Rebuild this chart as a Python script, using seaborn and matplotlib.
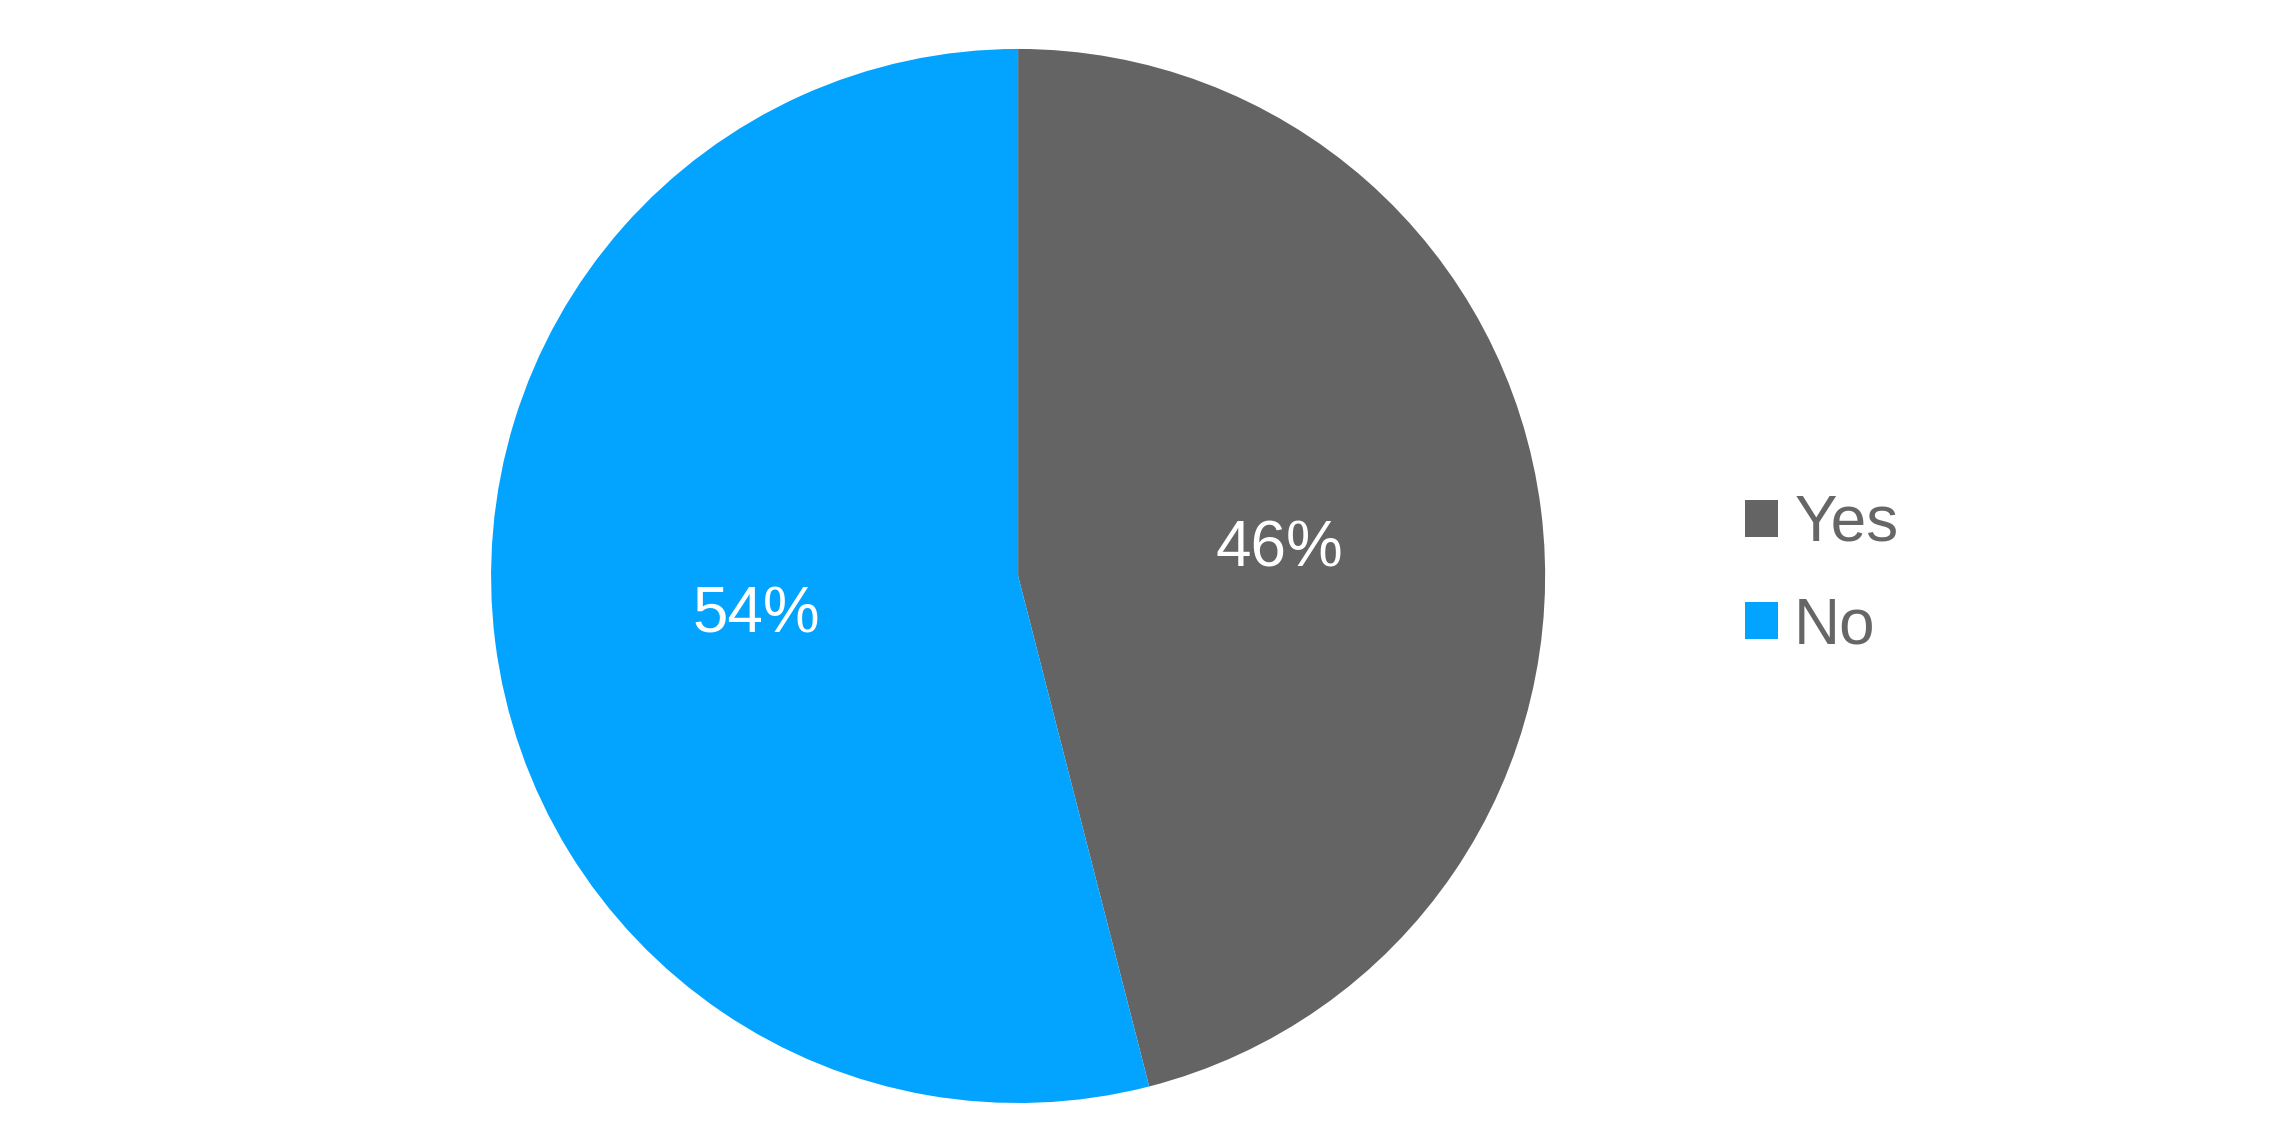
import matplotlib
matplotlib.use("Agg")
import matplotlib.pyplot as plt
import seaborn as sns

categories = ["Yes", "No"]
values = [46, 54]
colors = ["#646464", "#02A4FF"]

sns.set_theme(style="white")
plt.rcParams['font.family'] = ['Liberation Sans', 'DejaVu Sans']

fig = plt.figure(figsize=(22.82, 11.41), dpi=100)
ax = fig.add_axes([0.2152, 0.0333, 0.4619, 0.9238])
wedges, texts, autotexts = ax.pie(
    values, colors=colors, startangle=90, counterclock=False,
    autopct=lambda p: f"{p:.0f}%", pctdistance=0.5,
    wedgeprops=dict(linewidth=0), radius=1.0,
    textprops=dict(color="white", fontsize=46),
)
for t in autotexts:
    t.set_verticalalignment("center_baseline")
ax.set_xlim(-1, 1)
ax.set_ylim(-1, 1)
ax.set_aspect("equal")
ax.axis("off")

leg = fig.legend(
    wedges, categories, loc="center left", bbox_to_anchor=(0.7647, 0.496),
    frameon=False, fontsize=46, handlelength=0.52, handleheight=0.52,
    handletextpad=0.25, labelspacing=0.66, borderpad=0, borderaxespad=0,
)
for t in leg.get_texts():
    t.set_color("#666666")

fig.savefig("out.png", dpi=100, facecolor="white")
